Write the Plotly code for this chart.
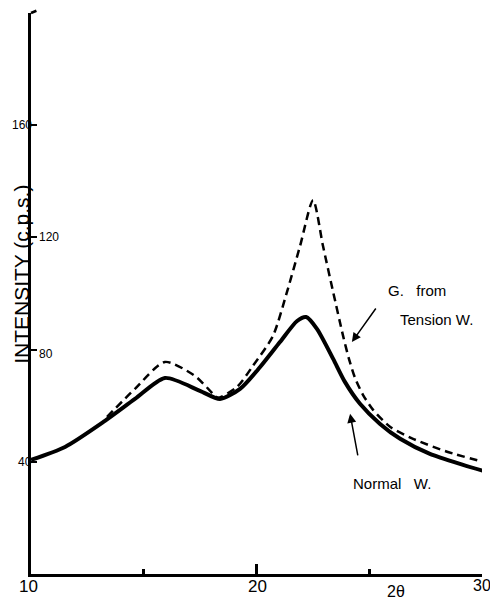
import plotly.graph_objects as go

# Normal wood (solid)
normal_x = [10.0, 11.51, 13.28, 14.61, 15.94, 17.49, 18.38, 19.27, 20.16, 21.04,
            21.80, 22.20, 22.68, 23.40, 23.92, 24.59, 25.48, 26.37, 27.69, 29.16, 30.04]
normal_y = [40.7, 45.3, 54.6, 62.4, 69.9, 65.3, 62.4, 66.0, 73.8, 82.7,
            90.2, 91.6, 87.4, 76.7, 68.5, 60.7, 53.5, 48.2, 42.8, 38.9, 36.8]

# G. from tension wood (dashed)
tension_x = [13.37, 14.61, 15.94, 17.27, 18.16, 18.29, 19.14, 19.84, 20.73, 21.35,
             21.93, 22.51, 22.95, 23.40, 23.84, 24.10, 24.37, 24.72, 25.17, 25.92,
             26.94, 28.45, 30.04]
tension_y = [56.0, 66.0, 75.6, 70.6, 63.5, 62.8, 66.7, 74.2, 84.9, 100.5,
             116.9, 133.3, 116.9, 100.5, 84.9, 76.7, 69.9, 63.9, 58.5, 52.5,
             48.2, 43.6, 40.0]

y_ticks = [40, 80, 120, 160]
y_tick_labels = ["40", "80", "120", "160"]
x_tick_labels = ["10", "20", "30°"]

FONT = "Liberation Sans"

fig = go.Figure()
fig.add_trace(go.Scatter(x=normal_x, y=normal_y, mode="lines",
                         line=dict(color="black", width=4, shape="spline", smoothing=0.7),
                         showlegend=False))
fig.add_trace(go.Scatter(x=tension_x, y=tension_y, mode="lines",
                         line=dict(color="black", width=2.5, dash="8px,5px", shape="spline", smoothing=0.7),
                         showlegend=False))

ann = []
# y tick labels
ann.append(dict(x=10, y=160, xref="x", yref="y", text=y_tick_labels[3], showarrow=False,
                xanchor="right", xshift=3, font=dict(size=12, family=FONT, color="black")))
ann.append(dict(x=10, y=120, xref="x", yref="y", text=y_tick_labels[2], showarrow=False,
                xanchor="left", xshift=6, font=dict(size=12, family=FONT, color="black")))
ann.append(dict(x=10, y=80, xref="x", yref="y", text=y_tick_labels[1], showarrow=False,
                xanchor="left", xshift=6, yshift=-4, font=dict(size=12, family=FONT, color="black")))
ann.append(dict(x=10, y=40, xref="x", yref="y", text=y_tick_labels[0], showarrow=False,
                xanchor="right", xshift=3, font=dict(size=12, family=FONT, color="black")))
# x tick labels
ann.append(dict(x=10, y=0, xref="x", yref="y", text=x_tick_labels[0], showarrow=False,
                yanchor="top", xshift=-3, yshift=-1, font=dict(size=17, family=FONT, color="black")))
ann.append(dict(x=20, y=0, xref="x", yref="y", text=x_tick_labels[1], showarrow=False,
                yanchor="top", xshift=1, yshift=-1, font=dict(size=17, family=FONT, color="black")))
ann.append(dict(x=30, y=0, xref="x", yref="y", text=x_tick_labels[2], showarrow=False,
                xanchor="left", yanchor="top", xshift=-11, yshift=-1,
                font=dict(size=16, family=FONT, color="black")))
ann.append(dict(x=26.19, y=0, xref="x", yref="y", text="2θ", showarrow=False,
                yanchor="top", yshift=-7, font=dict(size=16, family=FONT, color="black")))
# axis title
ann.append(dict(x=-0.02, y=107, xref="paper", yref="y", text="INTENSITY (c.p.s.)", showarrow=False,
                textangle=-90, xanchor="center", yanchor="middle",
                font=dict(size=21, family=FONT, color="black")))
# curve labels
ann.append(dict(x=27.12, y=100.9, xref="x", yref="y", text="G.\u00a0\u00a0\u00a0from", showarrow=False,
                font=dict(size=15, family=FONT, color="black")))
ann.append(dict(x=28.0, y=90.9, xref="x", yref="y", text="Tension W.", showarrow=False,
                font=dict(size=15, family=FONT, color="black")))
ann.append(dict(x=26.0, y=32.2, xref="x", yref="y", text="Normal\u00a0\u00a0\u00a0W.", showarrow=False,
                font=dict(size=15, family=FONT, color="black")))
# arrows
ann.append(dict(x=24.23, y=82.7, xref="x", yref="y", text="", showarrow=True,
                ax=25, ay=-35, arrowhead=2, arrowsize=1.2, arrowwidth=1.5, arrowcolor="black"))
ann.append(dict(x=24.15, y=57.1, xref="x", yref="y", text="", showarrow=True,
                ax=8, ay=43, arrowhead=2, arrowsize=1.2, arrowwidth=1.5, arrowcolor="black"))

# The page body adds an 8px margin, so the figure is sized to fit the window.
fig.update_layout(
    width=490, height=591,
    margin=dict(l=23, r=16, t=5, b=25),
    paper_bgcolor="white", plot_bgcolor="white",
    annotations=ann,
    xaxis=dict(range=[10, 30], showgrid=False, zeroline=False, showline=True,
               linecolor="black", linewidth=2.5, ticks="inside", tickmode="array",
               tickvals=[20, 30], ticklen=10, tickwidth=2.5, tickcolor="black",
               showticklabels=False,
               minor=dict(tickmode="array", tickvals=[15, 25], ticks="inside", ticklen=5,
                          tickwidth=2.5, tickcolor="black")),
    yaxis=dict(range=[0, 200], showgrid=False, zeroline=False, showline=True,
               linecolor="black", linewidth=2.5, ticks="inside", tickmode="array",
               tickvals=y_ticks, ticklen=6, tickwidth=1.5, tickcolor="black",
               showticklabels=False),
)
# small hook at the top of the y axis
fig.add_shape(type="line", xref="paper", yref="paper", x0=0, y0=1, x1=0.012, y1=1.004,
              line=dict(color="black", width=2.5))

fig.write_html("out.html")
